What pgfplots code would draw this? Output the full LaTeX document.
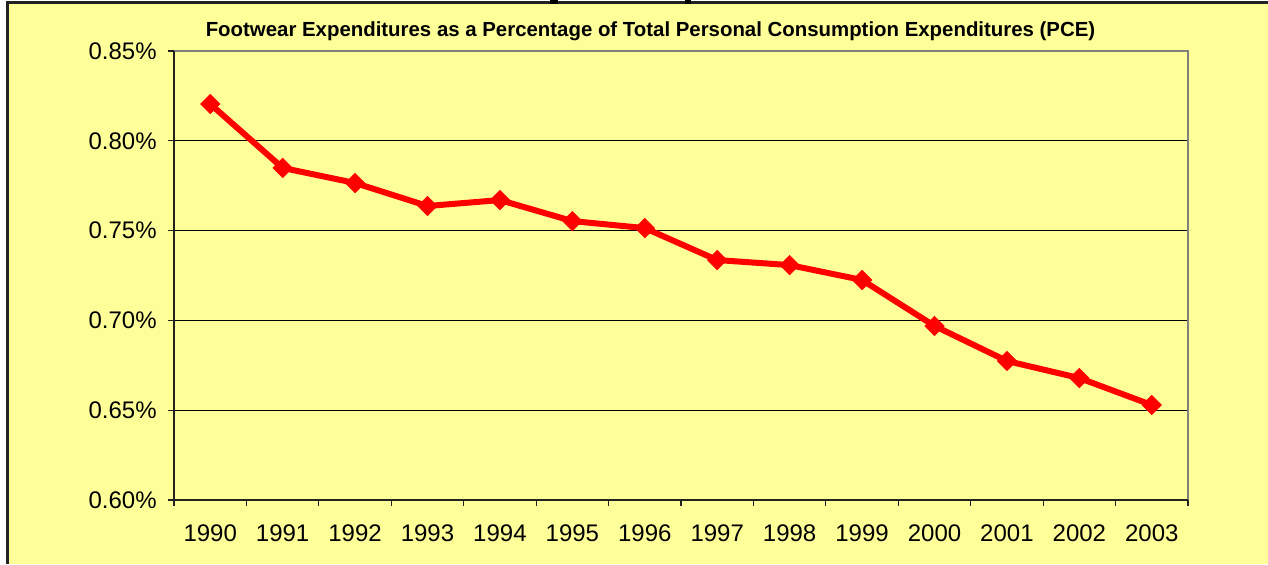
\documentclass[border=0pt]{standalone}
\usepackage{pgfplots}
\pgfplotsset{compat=1.18}
\usepackage{fontspec}
\setmainfont{Liberation Sans}
\definecolor{bgyellow}{HTML}{FFFF99}
\definecolor{linered}{HTML}{FF0000}
\definecolor{framegray}{HTML}{808080}
\definecolor{darkline}{HTML}{222222}
\begin{document}
\begin{tikzpicture}
\useasboundingbox (0,0) rectangle (634pt,282pt);
\fill[white] (0,0) rectangle (634pt,282pt);
\fill[bgyellow] (3.5pt,0) rectangle (634pt,280.5pt);
\draw[darkline,line width=1.2pt] (3.8pt,0) -- (3.8pt,280.8pt) -- (634pt,280.8pt);
\fill[black] (275pt,280pt) rectangle (279pt,282pt);
\fill[black] (342.5pt,280pt) rectangle (345.5pt,282pt);
\node[anchor=base,font=\fontsize{10.2}{12}\selectfont\bfseries] at (325.25pt,264pt)
  {Footwear Expenditures as a Percentage of Total Personal Consumption Expenditures (PCE)};
\begin{axis}[
  at={(87pt,32pt)}, anchor=south west,
  scale only axis, width=507pt, height=224.5pt,
  xmin=-0.5, xmax=13.5, ymin=0.60, ymax=0.85,
  xtick={0,1,2,3,4,5,6,7,8,9,10,11,12,13},
  xticklabels={1990,1991,1992,1993,1994,1995,1996,1997,1998,1999,2000,2001,2002,2003},
  minor xtick={-0.5,0.5,1.5,2.5,3.5,4.5,5.5,6.5,7.5,8.5,9.5,10.5,11.5,12.5,13.5},
  major x tick style={draw=none},
  ytick={0.60,0.65,0.70,0.75,0.80,0.85},
  /pgf/number format/assume math mode=true,
  yticklabel={\pgfmathprintnumber[fixed,fixed zerofill,precision=2,assume math mode=true]{\tick}\%},
  tick pos=left, tick align=outside,
  major tick length=3pt, minor tick length=3pt,
  tick style={darkline, line width=0.6pt},
  ymajorgrids, major grid style={black, line width=0.5pt},
  axis line style={draw=none},
  ticklabel style={font=\fontsize{12}{13}\selectfont},
  yticklabel style={inner xsep=5.5pt},
  xticklabel style={yshift=-6pt},
  clip=false,
]
\addplot[linered, line width=3pt, mark=square*, mark size=3.4pt,
  mark options={solid, rotate=45, line width=0.4pt, fill=linered}] coordinates {
  (0,0.8205) (1,0.7849) (2,0.7765) (3,0.7637) (4,0.7670)
  (5,0.7553) (6,0.7514) (7,0.7336) (8,0.7308) (9,0.7225)
  (10,0.6969) (11,0.6774) (12,0.6679) (13,0.6529)
};
\draw[framegray, line width=0.9pt] (rel axis cs:0,1) -- (rel axis cs:1,1) -- (rel axis cs:1,0);
\draw[darkline, line width=0.9pt] (rel axis cs:0,1) -- (rel axis cs:0,0) -- (rel axis cs:1,0);
\end{axis}
\end{tikzpicture}
\end{document}
